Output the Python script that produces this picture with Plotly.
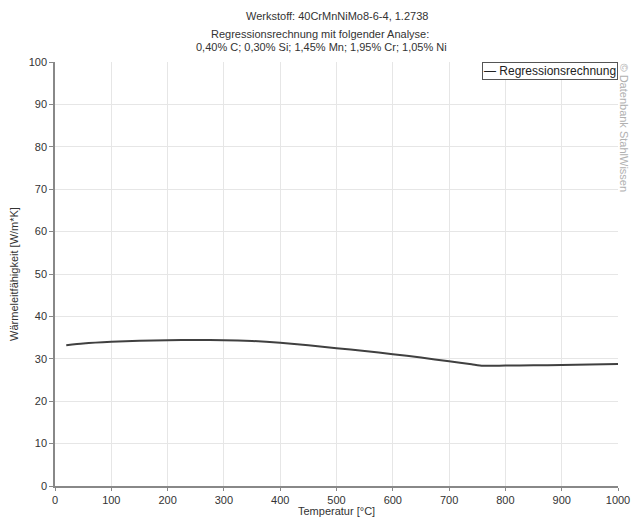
import plotly.graph_objects as go

temperature = [20, 50, 100, 150, 200, 250, 300, 350, 400, 450, 500, 550, 600, 650, 700, 740, 760, 800, 850, 900, 950, 1000]
conductivity = [33.2, 33.6, 34.0, 34.25, 34.4, 34.45, 34.4, 34.2, 33.8, 33.2, 32.5, 31.85, 31.1, 30.3, 29.4, 28.7, 28.35, 28.4, 28.45, 28.55, 28.65, 28.8]

x_ticks = [0, 100, 200, 300, 400, 500, 600, 700, 800, 900, 1000]
y_ticks = [0, 10, 20, 30, 40, 50, 60, 70, 80, 90, 100]

series_name = "Regressionsrechnung"
font_family = "Liberation Sans, Arial, sans-serif"

W, H = 631, 517
ML, MR, MT, MB = 55, 13, 62, 31

fig = go.Figure()
fig.add_trace(go.Scatter(
    x=temperature, y=conductivity, mode="lines", name=series_name,
    line=dict(color="#404040", width=2, shape="spline", smoothing=0.6),
))

fig.update_layout(
    width=W, height=H,
    margin=dict(l=ML, r=MR, t=MT, b=MB, autoexpand=False),
    paper_bgcolor="white", plot_bgcolor="white",
    font=dict(family=font_family, size=11, color="#333333"),
    showlegend=False,
    xaxis=dict(range=[0, 1000], tickvals=x_ticks, showgrid=True, gridcolor="#e6e6e6",
               showline=True, linecolor="#888888", linewidth=1.5, ticks="outside",
               ticklen=3, tickcolor="#888888", zeroline=False, automargin=False,
               tickfont=dict(size=11)),
    yaxis=dict(range=[0, 100], tickvals=y_ticks, showgrid=True, gridcolor="#e6e6e6",
               showline=True, linecolor="#888888", linewidth=1.5, ticks="outside",
               ticklen=4, tickcolor="#888888", zeroline=False, automargin=False,
               title=dict(text="Wärmeleitfähigkeit [W/m*K]", standoff=8, font=dict(size=11)),
               tickfont=dict(size=11)),
)

def px_x(px):
    return (px - ML) / (W - ML - MR)

def px_y(py):
    return (H - MB - py) / (H - MT - MB)

def label(text, x, y, **kw):
    opts = dict(xref="paper", yref="paper", showarrow=False, xanchor="center", yanchor="middle",
                font=dict(size=11))
    opts.update(kw)
    fig.add_annotation(text=text, x=px_x(x), y=px_y(y), **opts)

label("Werkstoff: 40CrMnNiMo8-6-4, 1.2738", 337, 16)
label("Regressionsrechnung mit folgender Analyse:", 320, 34)
label("0,40% C; 0,30% Si; 1,45% Mn; 1,95% Cr; 1,05% Ni", 321, 47)
label("Temperatur [°C]", 336, 511)
label("© Datenbank StahlWissen", 624, 61, textangle=90, yanchor="top",
      font=dict(size=11, color="#b0b0b0"))
# legend box
label("— " + series_name, 618, 62, xanchor="right", yanchor="top",
      bgcolor="white", bordercolor="#555555", borderwidth=1, borderpad=1,
      font=dict(size=12, color="#222222"))

fig.write_html("out.html", config={"displayModeBar": False},
               post_script="document.body.style.margin='0';document.body.style.overflow='hidden';")
